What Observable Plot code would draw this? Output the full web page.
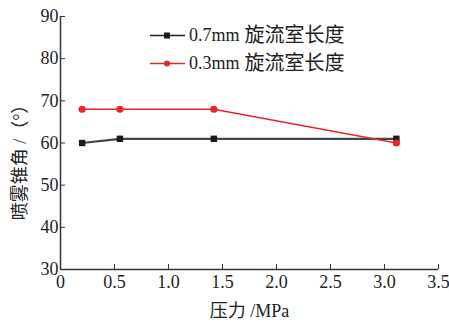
<!DOCTYPE html>
<html>
<head>
<meta charset="utf-8">
<script src="https://cdn.jsdelivr.net/npm/d3@7"></script>
<script src="https://cdn.jsdelivr.net/npm/@observablehq/plot@0.6"></script>
<style>
  html, body { margin: 0; padding: 0; background: #fff; }
  #wrap { position: relative; width: 449px; height: 324px; }
  #wrap svg, #wrap svg text { font-family: "Liberation Serif", "Noto Sans CJK SC", serif !important; }
  .legend { position: absolute; left: 150px; font-family: "Liberation Serif", "Noto Sans CJK SC", serif; font-size: 18px; color: #222; display: flex; align-items: center; line-height: 1; white-space: nowrap; }
  .legend svg { margin-right: 3px; }
  .legend .cjk { font-size: 20px; margin-left: 5px; }
</style>
</head>
<body>
<div id="wrap"></div>
<script>
const pressure07 = [0.2, 0.55, 1.42, 3.11];
const angle07 = [60, 61, 61, 61];
const pressure03 = [0.2, 0.55, 1.42, 3.11];
const angle03 = [68, 68, 68, 60];
const seriesNames = ["0.7mm 旋流室长度", "0.3mm 旋流室长度"];
const seriesColors = ["#444444", "#e8262b"];
const xTicks = [0, 0.5, 1.0, 1.5, 2.0, 2.5, 3.0, 3.5];
const yTicks = [30, 40, 50, 60, 70, 80, 90];
const xLabel = "压力 /MPa";
const yLabel = "喷雾锥角 /（°）";

const d07 = pressure07.map((x, i) => ({x, y: angle07[i]}));
const d03 = pressure03.map((x, i) => ({x, y: angle03[i]}));

const chart = Plot.plot({
  width: 449,
  height: 324,
  marginLeft: 60,
  marginRight: 11,
  marginTop: 16,
  marginBottom: 55,
  style: {fontSize: "18px", color: "#222", background: "#fff"},
  x: {domain: [0, 3.5]},
  y: {domain: [30, 90]},
  marks: [
    Plot.axisX({ticks: xTicks, tickSize: -5, tickFormat: d => d === 0 ? "0" : d.toFixed(1), tickPadding: 11, fontSize: 18, label: null, stroke: "#333"}),
    Plot.axisY({ticks: yTicks, tickSize: -5, tickPadding: 7, fontSize: 18, label: null, stroke: "#333"}),
    Plot.ruleY([30], {stroke: "#333", strokeWidth: 1.5}),
    Plot.ruleX([0], {stroke: "#333", strokeWidth: 1.5}),
    Plot.line(d07, {x: "x", y: "y", stroke: seriesColors[0], strokeWidth: 2.2}),
    Plot.dot(d07, {x: "x", y: "y", symbol: "square", r: 3.6, fill: "#1a1a1a", stroke: "none"}),
    Plot.line(d03, {x: "x", y: "y", stroke: seriesColors[1], strokeWidth: 1.5}),
    Plot.dot(d03, {x: "x", y: "y", symbol: "circle", r: 3.6, fill: seriesColors[1], stroke: "none"}),
    Plot.text([xLabel], {frameAnchor: "bottom", dy: 47, dx: 0, fontSize: 18, fill: "#222"}),
    Plot.text([yLabel], {frameAnchor: "left", textAnchor: "middle", dx: -40, dy: 15, rotate: -90, fontSize: 18, fill: "#222"})
  ]
});

const wrap = document.getElementById("wrap");
wrap.appendChild(chart);

const legendTops = [25, 53];
seriesNames.forEach((name, i) => {
  const div = document.createElement("div");
  div.className = "legend";
  div.style.top = legendTops[i] + "px";
  const [num, cjk] = name.split(" ");
  const sym = i === 0
    ? `<rect x="14" y="3.5" width="6" height="6" fill="#1a1a1a"/>`
    : `<circle cx="17" cy="6.5" r="3" fill="${seriesColors[1]}"/>`;
  div.innerHTML = `<svg width="36" height="13"><line x1="0" x2="35" y1="6.5" y2="6.5" stroke="${i === 0 ? "#222" : seriesColors[1]}" stroke-width="1.5"/>${sym}</svg><span>${num}</span><span class="cjk">${cjk}</span>`;
  wrap.appendChild(div);
});
</script>
</body>
</html>
